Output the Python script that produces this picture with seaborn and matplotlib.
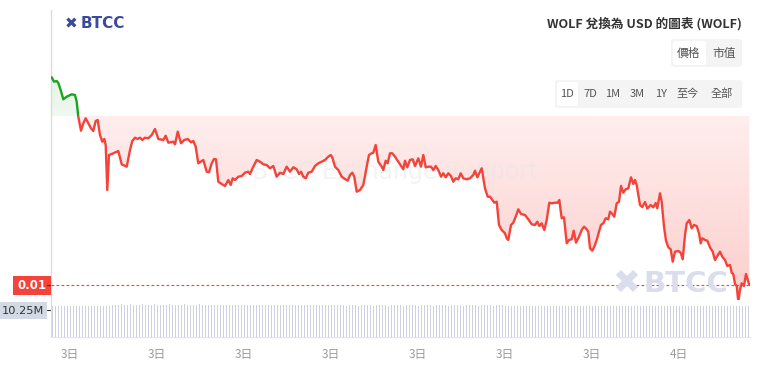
import matplotlib.pyplot as plt
import seaborn as sns
import numpy as np
import pandas as pd
from matplotlib.path import Path
from matplotlib.patches import PathPatch, Rectangle, FancyBboxPatch
from matplotlib.colors import to_rgb

# style / fonts
sns.set_style("white")
plt.rcParams['font.family'] = ['Noto Sans CJK TC', 'DejaVu Sans']
plt.rcParams['font.size'] = 9

# --- data (hours since 0:00 on the 3rd, price in 1e-5 USD) ---
hours = [2.369, 2.448, 2.541, 2.597, 2.679, 2.769, 2.886, 3.059, 3.172, 3.231,
         3.286, 3.379, 3.459, 3.541, 3.631, 3.724, 3.803, 3.886, 3.955, 4.034,
         4.114, 4.183, 4.231, 4.286, 4.345, 4.493, 4.666, 4.783, 4.955, 5.069,
         5.148, 5.241, 5.334, 5.414, 5.493, 5.586, 5.700, 5.817, 5.931, 6.045,
         6.217, 6.300, 6.390, 6.562, 6.621, 6.714, 6.828, 6.941, 7.059, 7.172,
         7.252, 7.334, 7.424, 7.597, 7.714, 7.793, 7.886, 7.966, 8.034, 8.114,
         8.231, 8.345, 8.459, 8.541, 8.610, 8.690, 8.803, 8.921, 9.034, 9.148,
         9.207, 9.321, 9.438, 9.552, 9.666, 9.783, 9.897, 10.010, 10.128, 10.241,
         10.355, 10.472, 10.586, 10.700, 10.817, 10.897, 10.966, 11.045, 11.128, 11.217,
         11.334, 11.448, 11.562, 11.679, 11.793, 11.907, 11.990, 12.045, 12.138, 12.252,
         12.369, 12.483, 12.576, 12.655, 12.734, 12.803, 12.886, 13.000, 13.114, 13.231,
         13.310, 13.403, 13.459, 13.541, 13.631, 13.748, 13.803, 13.886, 13.955, 14.034,
         14.114, 14.207, 14.321, 14.438, 14.493, 14.552, 14.631, 14.724, 14.817, 14.897,
         15.010, 15.103, 15.183, 15.266, 15.355, 15.448, 15.528, 15.610, 15.700, 15.793,
         15.872, 15.955, 16.045, 16.138, 16.217, 16.300, 16.390, 16.472, 16.562, 16.679,
         16.793, 16.907, 16.966, 17.045, 17.138, 17.197, 17.310, 17.403, 17.483, 17.562,
         17.631, 17.714, 17.793, 17.886, 18.000, 18.059, 18.114, 18.207, 18.286, 18.369,
         18.459, 18.552, 18.690, 18.803, 18.921, 19.034, 19.114, 19.183, 19.266, 19.355,
         19.438, 19.528, 19.610, 19.724, 19.817, 19.872, 19.955, 20.034, 20.128, 20.207,
         20.300, 20.369, 20.448, 20.552, 20.645, 20.724, 20.817, 20.872, 20.931, 21.010,
         21.079, 21.162, 21.241, 21.310, 21.390, 21.472, 21.562, 21.621, 21.700, 21.769,
         21.852, 21.931, 22.000, 22.079, 22.162, 22.252, 22.345, 22.424, 22.483, 22.541,
         22.655, 22.734, 22.828, 22.907, 23.024, 23.114, 23.197, 23.252, 23.345, 23.403,
         23.483, 23.552, 23.631, 23.714, 23.783, 23.862, 23.976, 24.059, 24.128, 24.207,
         24.266, 24.355, 24.438, 24.517, 24.610, 24.690, 24.748, 24.803, 24.897, 24.976,
         25.069, 25.162, 25.241, 25.321, 25.414, 25.493, 25.586, 25.666, 25.759, 25.817,
         25.872, 25.931, 25.990, 26.045, 26.103, 26.162, 26.241, 26.310, 26.355, 26.424]

price_e5 = [1207.7, 1203.3, 1204.0, 1202.0, 1195.0, 1185.7, 1188.3, 1190.7, 1190.0, 1183.3,
            1168.3, 1154.3, 1161.7, 1166.7, 1161.7, 1156.7, 1154.0, 1164.0, 1165.0, 1150.0,
            1143.3, 1146.0, 1140.0, 1095.0, 1130.0, 1131.7, 1134.0, 1120.7, 1118.3, 1135.0,
            1144.0, 1147.3, 1146.0, 1147.3, 1145.0, 1147.3, 1146.7, 1150.0, 1156.0, 1146.0,
            1145.0, 1149.3, 1142.3, 1143.3, 1140.7, 1153.3, 1141.7, 1145.0, 1146.0, 1142.7,
            1144.0, 1138.3, 1121.7, 1125.0, 1113.3, 1112.7, 1121.7, 1126.0, 1125.7, 1103.3,
            1101.0, 1099.0, 1105.0, 1100.0, 1106.7, 1105.0, 1108.3, 1109.0, 1112.3, 1113.3,
            1111.0, 1118.3, 1125.0, 1123.3, 1120.7, 1120.0, 1116.7, 1119.0, 1108.3, 1112.3,
            1111.0, 1118.3, 1113.3, 1117.7, 1115.7, 1111.0, 1113.3, 1108.3, 1106.7, 1112.3,
            1113.3, 1119.0, 1121.7, 1123.3, 1125.0, 1128.3, 1130.0, 1127.7, 1118.3, 1115.0,
            1108.3, 1106.0, 1104.3, 1110.0, 1112.3, 1108.3, 1093.3, 1095.0, 1100.0, 1118.3,
            1130.0, 1131.7, 1132.3, 1140.0, 1123.3, 1118.3, 1115.0, 1124.3, 1121.7, 1131.7,
            1131.7, 1128.3, 1123.3, 1118.3, 1115.7, 1124.3, 1117.7, 1125.0, 1125.7, 1119.0,
            1126.7, 1118.3, 1130.0, 1117.7, 1118.3, 1118.3, 1115.0, 1119.0, 1115.0, 1108.3,
            1111.7, 1107.7, 1111.7, 1109.0, 1103.3, 1106.7, 1105.7, 1111.7, 1106.7, 1105.7,
            1106.7, 1110.0, 1114.3, 1107.7, 1113.3, 1116.7, 1096.7, 1088.3, 1088.3, 1085.0,
            1082.3, 1083.3, 1060.0, 1055.0, 1051.7, 1046.7, 1045.0, 1060.0, 1062.3, 1068.3,
            1075.7, 1071.0, 1070.0, 1065.7, 1060.7, 1060.0, 1063.3, 1059.0, 1061.7, 1055.0,
            1065.0, 1082.3, 1081.7, 1082.3, 1082.3, 1085.0, 1066.7, 1067.7, 1041.7, 1045.0,
            1045.7, 1054.3, 1042.3, 1048.3, 1055.0, 1058.3, 1055.7, 1053.3, 1036.7, 1034.3,
            1038.3, 1045.0, 1053.3, 1060.0, 1061.7, 1066.7, 1065.7, 1073.3, 1071.0, 1068.3,
            1081.7, 1083.3, 1099.0, 1092.3, 1095.7, 1096.7, 1107.7, 1101.0, 1105.0, 1100.0,
            1080.0, 1078.0, 1083.0, 1076.5, 1080.0, 1077.7, 1082.0, 1076.7, 1091.7, 1083.3,
            1058.3, 1044.3, 1037.7, 1035.7, 1023.3, 1033.3, 1034.0, 1032.3, 1025.7, 1050.0,
            1061.7, 1065.0, 1056.7, 1060.0, 1059.0, 1051.7, 1041.7, 1046.7, 1045.0, 1044.3,
            1037.7, 1033.3, 1025.0, 1029.0, 1033.3, 1028.3, 1025.0, 1019.0, 1020.0, 1012.3,
            1011.0, 1001.0, 999.0, 983.3, 995.0, 1001.7, 999.0, 1011.0, 1006.7, 1000.0]

baseline_e5 = 1169.0   # price at the start of the period

# volume bars (millions), one bar per interval starting at vol_start
vol_start = 2.40
vol_step = 3 / 29
volume_m = [11.8, 11.7, 11.8, 11.9, 11.7, 11.8, 11.8, 11.9, 11.8, 11.7, 11.8, 11.9,
            11.8, 11.8, 11.9, 11.8, 11.7, 11.8, 11.9, 11.8, 12.2, 12.3, 12.3, 12.4,
            12.3, 12.3, 12.4, 12.3, 12.2, 12.3, 12.4, 12.3, 12.3, 12.3, 12.4, 12.3,
            12.2, 12.3, 12.3, 12.4, 12.3, 12.2, 12.3, 12.3, 12.4, 12.3, 12.3, 12.2,
            12.3, 12.4, 12.3, 12.2, 12.1, 12.1, 12.2, 12.1, 12.0, 12.1, 12.2, 12.1,
            12.1, 12.0, 12.1, 12.2, 12.1, 12.1, 12.0, 12.1, 12.1, 12.2, 12.1, 12.0,
            12.1, 12.1, 12.2, 12.1, 12.1, 12.0, 12.1, 12.2, 12.1, 12.1, 12.0, 12.1,
            12.2, 12.1, 12.0, 12.1, 12.1, 12.2, 12.1, 12.1, 12.0, 12.1, 12.1, 12.2,
            12.0, 12.0, 11.9, 12.0, 12.1, 12.0, 11.9, 12.0, 12.0, 12.1, 12.0, 11.9,
            12.0, 12.0, 12.1, 12.0, 11.9, 12.0, 12.0, 12.1, 12.0, 11.9, 12.0, 12.0,
            12.1, 12.0, 11.9, 12.0, 12.0, 12.1, 12.0, 11.9, 12.0, 12.0, 12.1, 12.0,
            11.9, 12.0, 12.0, 12.1, 12.0, 11.9, 12.0, 12.0, 12.1, 12.0, 11.9, 12.0,
            12.0, 12.1, 12.0, 11.9, 12.0, 12.0, 12.0, 11.9, 11.9, 11.8, 11.9, 11.9,
            11.8, 11.9, 11.9, 11.8, 11.9, 11.9, 11.8, 11.9, 11.9, 11.8, 11.9, 11.9,
            11.8, 11.9, 11.9, 11.8, 11.9, 11.9, 11.8, 11.9, 11.9, 11.8, 11.9, 11.9,
            11.8, 11.9, 11.8, 11.8, 11.7, 11.8, 11.8, 11.7, 11.8, 11.8, 11.7, 11.8,
            11.8, 11.7, 11.8, 11.8, 11.7, 11.8, 11.8, 11.7, 11.8, 11.8, 11.7, 11.8,
            11.8, 11.7, 11.8, 11.8, 11.7, 11.8, 11.8, 11.7, 11.8, 11.8, 11.7, 11.8,
            11.8, 11.7, 11.8, 11.8, 11.7, 11.8, 11.8, 11.7, 11.8, 11.8, 11.7, 11.8,
            11.8, 11.7, 11.8, 11.8, 11.7]

tick_hours = [3, 6, 9, 12, 15, 18, 21, 24]
tick_labels = ['3日', '3日', '3日', '3日', '3日', '3日', '3日', '4日']
last_price_label = '0.01'
last_volume_label = '10.25M'
title = 'WOLF 兌換為 USD 的圖表 (WOLF)'
type_buttons = ['價格', '市值']
range_buttons = ['1D', '7D', '1M', '3M', '1Y', '至今', '全部']

df = pd.DataFrame({'hour': hours, 'price': np.array(price_e5) / 1e5})
base = baseline_e5 / 1e5
vol_hours = vol_start + vol_step * np.arange(len(volume_m))

RED = '#f4433a'
GREEN = '#1aa51f'
W, H = 761, 365
XMIN, XMAX = 68 / 29, 767 / 29
YMIN, YMAX = 985e-5, 1275e-5

fig = plt.figure(figsize=(W / 100, H / 100), dpi=100)
ax = fig.add_axes([51 / W, 1 - 300 / H, 699 / W, 290 / H])
axv = fig.add_axes([51 / W, 1 - 337 / H, 699 / W, 37 / H])

# --- gradient fills above / below the baseline ---
t = df['hour'].values
p = df['price'].values
below = ax.fill_between(t, p, base, where=p <= base, interpolate=True, facecolor='none', edgecolor='none')
above = ax.fill_between(t, p, base, where=p >= base, interpolate=True, facecolor='none', edgecolor='none')


def gradient(coll, color, a_low, a_high, y0, y1):
    rgb = to_rgb(color)
    n = 256
    img = np.zeros((n, 1, 4))
    img[:, 0, :3] = rgb
    img[:, 0, 3] = np.linspace(a_low, a_high, n)
    im = ax.imshow(img, extent=[XMIN, XMAX, y0, y1], origin='lower', aspect='auto', zorder=1)
    path = Path.make_compound_path(*coll.get_paths())
    patch = PathPatch(path, transform=ax.transData, facecolor='none', edgecolor='none')
    ax.add_patch(patch)
    im.set_clip_path(patch)


gradient(below, RED, 0.26, 0.09, YMIN, base)
gradient(above, GREEN, 0.07, 0.2, base, YMAX)

# faint watermark text
ax.text(14.2, 1113e-5, 'BTCC Exchange Support', fontsize=17,
        color='#e6e6e6', alpha=0.45, ha='center', va='center', zorder=2, family='DejaVu Sans')

# --- price line: green above baseline, red below ---
sns.lineplot(data=df, x='hour', y='price', ax=ax, color=GREEN, lw=1.7, sort=False, estimator=None, zorder=4)
sns.lineplot(data=df, x='hour', y='price', ax=ax, color=RED, lw=1.7, sort=False, estimator=None, zorder=4)
clip_up = Rectangle((XMIN, base), XMAX - XMIN, YMAX - base, transform=ax.transData)
clip_dn = Rectangle((XMIN, YMIN), XMAX - XMIN, base - YMIN, transform=ax.transData)
ax.lines[0].set_clip_path(clip_up)
ax.lines[1].set_clip_path(clip_dn)

# last price dashed line
ax.axhline(p[-1], color=RED, lw=0.8, ls=(0, (2.5, 2)), zorder=3)

ax.set_xlim(XMIN, XMAX)
ax.set_ylim(YMIN, YMAX)
ax.set_xticks([])
ax.set_yticks([])
ax.set_xlabel('')
ax.set_ylabel('')
for s in ['top', 'right', 'bottom']:
    ax.spines[s].set_visible(False)
ax.spines['left'].set_color('#dcdcdc')
ax.spines['left'].set_linewidth(1)

# --- volume bars ---
axv.bar(vol_hours, volume_m, width=1 / 29, color='#cdd1e2', linewidth=0, antialiased=False)
axv.set_xlim(XMIN, XMAX)
axv.set_ylim(0, 14.05)
axv.set_yticks([])
axv.set_xticks(tick_hours)
axv.set_xticklabels(tick_labels, color='#9a9a9a', fontsize=8.5)
axv.tick_params(axis='x', length=3, color='#cccccc', pad=5)
for s in ['top', 'right']:
    axv.spines[s].set_visible(False)
axv.spines['left'].set_color('#dcdcdc')
axv.spines['bottom'].set_color('#e4e4e4')
axv.spines['bottom'].set_linewidth(0.8)

# --- axis labels on the left ---
fig.patches.append(Rectangle((13 / W, 1 - 295 / H), 38 / W, 19 / H, transform=fig.transFigure,
                             facecolor=RED, edgecolor='none'))
fig.text(32 / W, 1 - 285.5 / H, last_price_label, color='white', fontsize=8.5, fontweight='bold',
         ha='center', va='center', family='DejaVu Sans')
fig.patches.append(Rectangle((0, 1 - 319 / H), 47 / W, 17 / H, transform=fig.transFigure,
                             facecolor='#d3d9e5', edgecolor='none'))
fig.text(23 / W, 1 - 310.5 / H, last_volume_label, color='#333333', fontsize=8.2,
         ha='center', va='center', family='DejaVu Sans')
for yy in (285, 310):
    fig.lines.append(plt.Line2D([47 / W, 50 / W], [1 - yy / H, 1 - yy / H], transform=fig.transFigure,
                                color='#333333', lw=0.8))

# --- logos ---
fig.text(71 / W, 1 - 24 / H, '✖', color='#3b4a9e', fontsize=11, ha='center', va='center', family='DejaVu Sans')
fig.text(81 / W, 1 - 24 / H, 'BTCC', color='#3b4a9e', fontsize=11, fontweight='bold', ha='left', va='center',
         family='DejaVu Sans')
fig.text(626 / W, 1 - 284 / H, '✖', color='#d9ddec', fontsize=24, ha='center', va='center', family='DejaVu Sans',
         zorder=1)
fig.text(643 / W, 1 - 284 / H, 'BTCC', color='#d9ddec', fontsize=21, fontweight='bold', ha='left', va='center',
         family='DejaVu Sans', zorder=1)

# --- title and buttons ---
fig.text(742 / W, 1 - 24 / H, title, color='#333333', fontsize=9.1, fontweight='bold', ha='right', va='center')

fig.patches.append(FancyBboxPatch((671 / W, 1 - 67 / H), 71 / W, 28 / H, boxstyle='round,pad=0,rounding_size=0.006',
                                  transform=fig.transFigure, facecolor='#f4f4f5', edgecolor='none'))
fig.patches.append(FancyBboxPatch((673 / W, 1 - 65 / H), 33 / W, 24 / H, boxstyle='round,pad=0,rounding_size=0.004',
                                  transform=fig.transFigure, facecolor='white', edgecolor='none'))
for label, cx in zip(type_buttons, [689, 724]):
    fig.text(cx / W, 1 - 53 / H, label, color='#555555', fontsize=8.5, ha='center', va='center')

fig.patches.append(FancyBboxPatch((555 / W, 1 - 108 / H), 187 / W, 28 / H, boxstyle='round,pad=0,rounding_size=0.006',
                                  transform=fig.transFigure, facecolor='#f4f4f5', edgecolor='none'))
fig.patches.append(FancyBboxPatch((557 / W, 1 - 106 / H), 21 / W, 24 / H, boxstyle='round,pad=0,rounding_size=0.004',
                                  transform=fig.transFigure, facecolor='white', edgecolor='none'))
for label, cx in zip(range_buttons, [567, 590, 613, 637, 661, 688, 722]):
    fig.text(cx / W, 1 - 94 / H, label, color='#555555', fontsize=8, ha='center', va='center')

fig.savefig('out.png', dpi=100)
